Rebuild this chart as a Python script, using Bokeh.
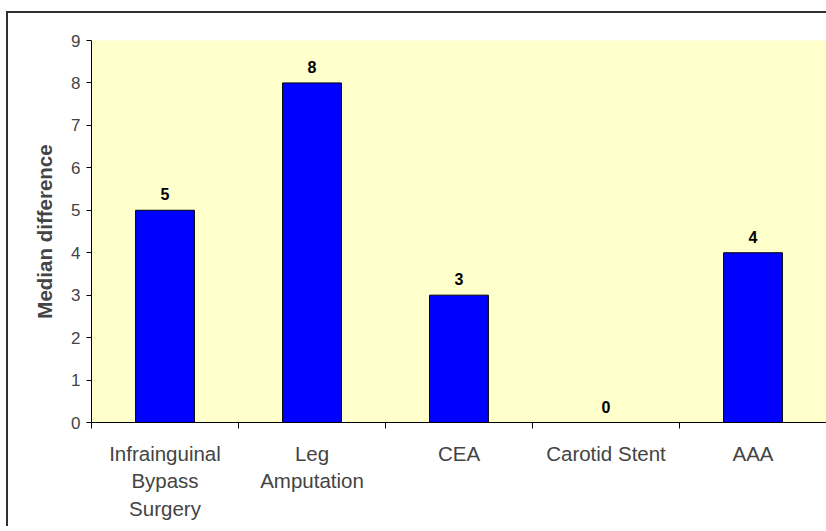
from bokeh.plotting import figure
from bokeh.models import Range1d, LinearAxis, FixedTicker
from bokeh.core.properties import value
from bokeh.embed import file_html
from bokeh.resources import INLINE

categories = ["Infrainguinal\nBypass\nSurgery", "Leg\nAmputation", "CEA", "Carotid Stent", "AAA"]
values = [5, 8, 3, 0, 4]
yticks = [0, 1, 2, 3, 4, 5, 6, 7, 8, 9]
y_label = "Median difference"

FONT = "Liberation Sans"

n = len(categories)
centers = [i + 0.5 for i in range(n)]
bounds = [float(i) for i in range(n + 1)]

p = figure(width=822, height=515, output_backend="svg", toolbar_location=None,
           x_range=Range1d(0, n), y_range=Range1d(0, 9),
           x_axis_type=None, y_axis_type=None,
           min_border_left=83, min_border_right=4, min_border_top=27, min_border_bottom=106)
p.styles = {"border-left": "2px solid #303030", "border-top": "2px solid #303030",
            "margin-top": "11px", "margin-left": "6px"}
p.background_fill_color = "#FFFFCC"
p.border_fill_color = "white"
p.outline_line_color = None
p.xgrid.visible = False
p.ygrid.visible = False

p.vbar(x=centers, top=values, bottom=0, width=0.4, fill_color="#0000FF", line_color="black", line_width=1)
p.text(x=centers, y=values, text=[str(v) for v in values], text_align="center", text_baseline="alphabetic",
       y_offset=-16, text_font=value(FONT), text_font_style="bold", text_font_size="16px", text_color="black")

yax = LinearAxis(ticker=FixedTicker(ticks=yticks, minor_ticks=[]))
yax.axis_label = y_label
yax.axis_label_text_font = FONT
yax.axis_label_text_font_style = "bold"
yax.axis_label_text_font_size = "20.5px"
yax.axis_label_standoff = 12
yax.major_label_text_font = FONT
yax.major_label_text_font_size = "17px"
yax.major_label_standoff = 6
yax.major_tick_out = 5
yax.major_tick_in = 0
yax.minor_tick_out = 0
yax.axis_line_color = "black"
yax.major_tick_line_color = "black"
p.add_layout(yax, "left")

xax = LinearAxis(ticker=FixedTicker(ticks=centers, minor_ticks=bounds))
xax.major_label_overrides = {c: lab for c, lab in zip(centers, categories)}
xax.major_label_text_font = FONT
xax.major_label_text_font_size = "20.5px"
xax.major_label_text_line_height = 1.2
xax.major_label_standoff = 13
xax.major_tick_out = 0
xax.major_tick_in = 0
xax.minor_tick_out = 6
xax.minor_tick_in = 0
xax.axis_line_color = "black"
xax.minor_tick_line_color = "black"
p.add_layout(xax, "below")

open("out.html", "w").write(file_html(p, INLINE))
